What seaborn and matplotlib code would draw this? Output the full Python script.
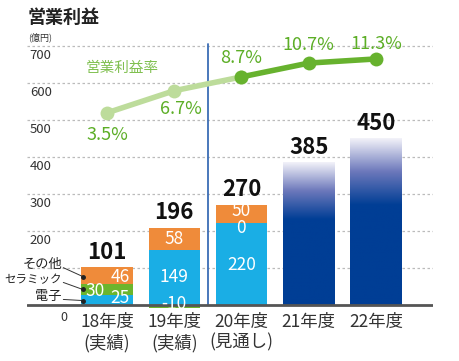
import numpy as np
import seaborn as sns
import matplotlib.pyplot as plt
from matplotlib.colors import LinearSegmentedColormap

# data (億円 / %)
years = ['18年度\n(実績)', '19年度\n(実績)', '20年度\n(見通し)', '21年度', '22年度']
denshi = [25, 149, 220]        # 電子
ceramic = [30, -10, 0]         # セラミック
other = [46, 58, 50]           # その他
totals = [101, 196, 270, 385, 450]
margin = [3.5, 6.7, 8.7, 10.7, 11.3]
ytick_vals = [0, 200, 300, 400, 500, 600, 700]

BLUE = '#1aaee5'
GREEN = '#6cb52d'
ORANGE = '#ef8b3a'
NAVY = '#003e95'
LINE_LIGHT = '#bddc9b'
LINE_DARK = '#67b22e'
TXT_GREEN = '#5cae26'

sns.set_style('white')
plt.rcParams['font.family'] = ['Noto Sans CJK JP', 'DejaVu Sans']

fig = plt.figure(figsize=(4.6, 3.61), dpi=100)
ax = fig.add_axes([0.0587, 0.1357, 0.8826, 0.778])

# stacked bars for actual / forecast years
bw = 0.76
past = years[:3]
sns.barplot(x=past, y=denshi, order=years, color=BLUE, width=bw,
            saturation=1, errorbar=None, ax=ax, linewidth=0)
green_bottom = [d if c >= 0 else 0 for d, c in zip(denshi, ceramic)]
sns.barplot(x=past, y=ceramic, order=years, color=GREEN, width=bw,
            saturation=1, errorbar=None, ax=ax, linewidth=0, bottom=green_bottom)
orange_bottom = [d + max(c, 0) for d, c in zip(denshi, ceramic)]
sns.barplot(x=past, y=other, order=years, color=ORANGE, width=bw,
            saturation=1, errorbar=None, ax=ax, linewidth=0, bottom=orange_bottom)

# plan years: navy bars with a fade to white at the top
n_before = len(ax.patches)
sns.barplot(x=years[3:], y=totals[3:], order=years, color=NAVY, width=bw,
            saturation=1, errorbar=None, ax=ax, edgecolor='#8f97cc', linewidth=0.6)
fade = LinearSegmentedColormap.from_list(
    'fade', [(0, NAVY), (0.6, NAVY), (0.8, '#6c78bb'), (1.0, '#f2f2f9')])
grad = np.linspace(0, 1, 256).reshape(-1, 1)
for p in ax.patches[n_before:]:
    x0, w, h = p.get_x(), p.get_width(), p.get_height()
    im = ax.imshow(grad, cmap=fade, origin='lower', aspect='auto',
                   extent=(x0, x0 + w, 0, h), zorder=p.get_zorder() + 0.1)
    im.set_clip_path(p)

ax.set_xlim(-1.19, 4.85)
ax.set_ylim(-20, 740)

# grid + axes
for v in range(100, 800, 100):
    ax.axhline(v, color='#bbbbbb', lw=0.9, ls=(0, (2, 2)), zorder=0)
ax.axhline(0, color='#555555', lw=2, zorder=5)
ax.plot([1.5, 1.5], [0, 705], color='#3b6db5', lw=1.3, zorder=1)
for s in ax.spines.values():
    s.set_visible(False)
ax.set_yticks([])
ax.tick_params(axis='x', length=0, pad=1, labelsize=12.5, labelcolor='#333333')
for lab in ax.get_xticklabels():
    lab.set_linespacing(1.15)
ax.set_xlabel('')

for v in ytick_vals:
    if v == 0:
        ax.annotate('0', (-1.19, 0), xytext=(24, -9.5), textcoords='offset points',
                    ha='left', va='center', fontsize=9, color='#333333')
    else:
        ax.annotate(str(v), (-1.19, v), xytext=(2, -7), textcoords='offset points',
                    ha='left', va='center', fontsize=9.5, color='#333333')

# labels inside the stacked bars (x offset, value position)
seg_labels = [
    (0.19, 19, '25'), (-0.18, 38, '30'), (0.19, 76, '46'),
    (1.0, 3, '-10'), (1.0, 76, '149'), (1.0, 178, '58'),
    (2.0, 108, '220'), (2.0, 206, '0'), (2.0, 252, '50'),
]
for x, y, t in seg_labels:
    ax.text(x, y, t, ha='center', va='center', color='white', fontsize=12.5, zorder=6)

# totals above bars
tops = [101, 207, 270, 385, 450]
for i, (t, top) in enumerate(zip(totals, tops)):
    ax.annotate(str(t), (i, top), xytext=(0, 11), textcoords='offset points',
                ha='center', va='center', fontsize=16, fontweight='bold',
                color='#111111', zorder=6)

# left legend with leader lines
legend_items = [('その他', 108, 76, 9.5), ('セラミック', 68, 41, 8.3), ('電子', 22, 11, 9.5)]
for name, ty, dy, fs in legend_items:
    ax.text(-0.67, ty, name, ha='right', va='center', fontsize=fs, color='#222222')
    ax.plot([-0.65, -0.36], [ty - 8, dy], color='#333333', lw=0.7, zorder=6)
    ax.plot(-0.36, dy, 'o', color='#222222', ms=2.5, zorder=7)

# operating margin line on a twin scale
ax2 = ax.twinx()
lo, hi = ax.get_ylim()
ax2.set_ylim((lo - 453.5) / 18.7, (hi - 453.5) / 18.7)
ax2.set_axis_off()
xs = np.arange(len(margin))
sns.lineplot(x=xs[:3], y=margin[:3], color=LINE_LIGHT, lw=4, marker='o',
             ms=10, markeredgewidth=0, ax=ax2)
sns.lineplot(x=xs[2:], y=margin[2:], color=LINE_DARK, lw=4, marker='o',
             ms=10, markeredgewidth=0, ax=ax2)
pct_off = [(0, -16), (5, -13), (0, 13.5), (0, 13), (0, 11)]
for x, m, off in zip(xs, margin, pct_off):
    ax2.annotate(f'{m}%', (x, m), xytext=off, textcoords='offset points',
                 ha='center', va='center', fontsize=13, color=TXT_GREEN)
ax.text(0.22, 640, '営業利益率', ha='center', va='center', fontsize=10.5,
        color='#80c050')

fig.text(28 / 460, 1 - 17 / 361, '営業利益', ha='left', va='center',
         fontsize=13, fontweight='bold', color='#222222')
fig.text(28 / 460, 1 - 37 / 361, '(億円)', ha='left', va='center',
         fontsize=6.5, color='#333333')

fig.savefig('out.png', dpi=100)
